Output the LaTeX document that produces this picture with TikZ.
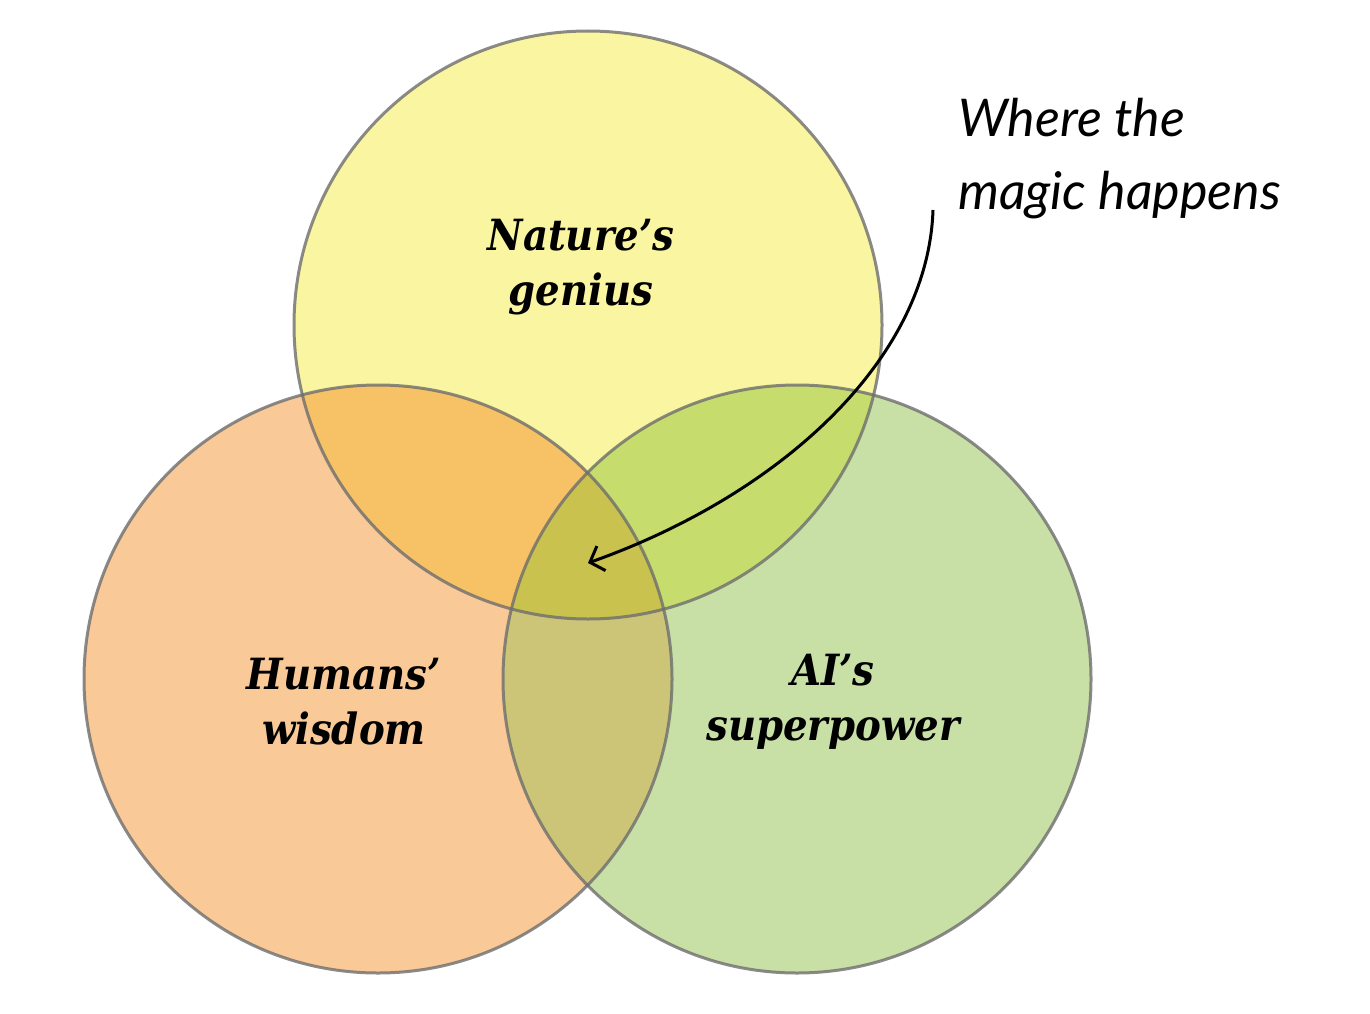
\documentclass[tikz,border=0pt]{standalone}
\usepackage{fontspec}
\setmainfont{DejaVu Serif}
\newfontfamily\lblfont{DejaVu Serif Condensed}
\newfontfamily\handfont{Lato}
\usetikzlibrary{arrows.meta}
\definecolor{cyel}{HTML}{FAF5A0}
\definecolor{cora}{HTML}{F9C998}
\definecolor{cgrn}{HTML}{C8E0A6}
\definecolor{cyo}{HTML}{F7C266}
\definecolor{cyg}{HTML}{C6DD6E}
\definecolor{cog}{HTML}{CCC577}
\definecolor{cmid}{HTML}{C9C24E}
\definecolor{cline}{HTML}{6E6E6E}
\begin{document}
\begin{tikzpicture}[x=1pt,y=-1pt,
  lbl/.style={font=\fontsize{43}{55}\selectfont\lblfont\bfseries\itshape, align=center, inner sep=0pt},
  hand/.style={font=\fontsize{52}{60}\selectfont\handfont\itshape, inner sep=0pt, anchor=base west},
  ring/.style={draw=cline, draw opacity=0.8, line width=3pt}]
\useasboundingbox (0,0) rectangle (1370,1014);
\def\R{294}
\coordinate (cT) at (588,325);
\coordinate (cL) at (378,679);
\coordinate (cR) at (797,679);
% base fills
\fill[cyel] (cT) circle (\R);
\fill[cora] (cL) circle (\R);
\fill[cgrn] (cR) circle (\R);
% pairwise overlaps
\begin{scope}\clip (cT) circle (\R); \fill[cyo] (cL) circle (\R); \end{scope}
\begin{scope}\clip (cT) circle (\R); \fill[cyg] (cR) circle (\R); \end{scope}
\begin{scope}\clip (cL) circle (\R); \fill[cog] (cR) circle (\R); \end{scope}
\begin{scope}\clip (cT) circle (\R); \clip (cL) circle (\R); \fill[cmid] (cR) circle (\R); \end{scope}
% outlines
\draw[ring] (cT) circle (\R);
\draw[ring] (cL) circle (\R);
\draw[ring] (cR) circle (\R);
% labels
\node[lbl] (nat) at (581,267) {Nature’s\\genius};
\node[lbl] (hum) at (344,702) {Humans’\\wisdom};
\node[lbl] (ai) at (833,702) {AI’s\\superpower};
\node[hand] (magic1) at (958,136) {Where the};
\node[hand] (magic2) at (958,209) {magic happens};
\coordinate (tgt) at (588,563);
\coordinate (src) at (933,210);
\draw[line width=3pt, -{Straight Barb[length=12pt,width=26pt,line width=3pt]}]
  (src) .. controls (928,360) and (780,495) .. (tgt);
\end{tikzpicture}
\end{document}
